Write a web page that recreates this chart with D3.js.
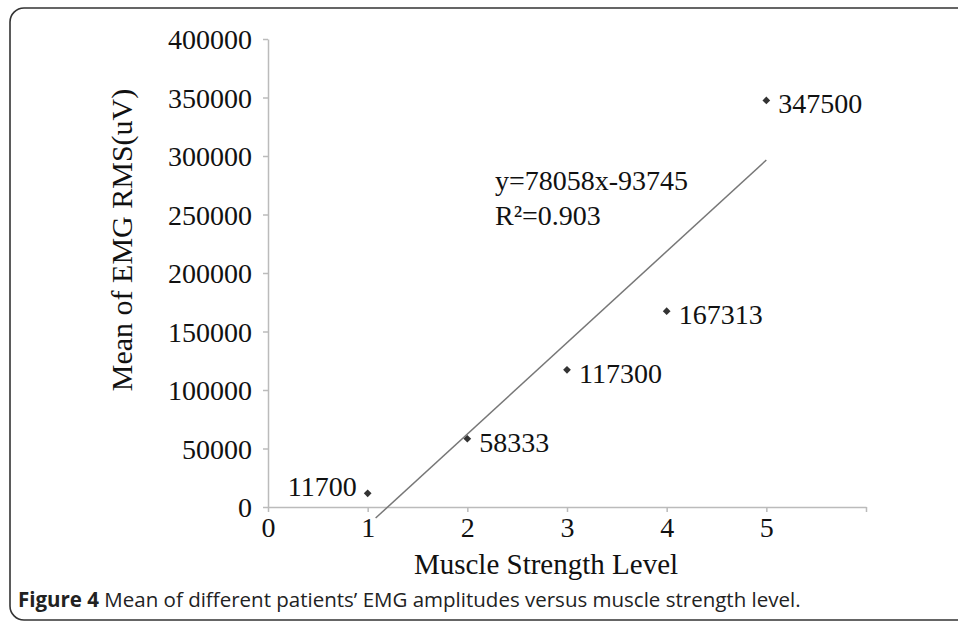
<!DOCTYPE html>
<html>
<head>
<meta charset="utf-8">
<script src="https://cdn.jsdelivr.net/npm/d3@7"></script>
<style>
  body { margin: 0; background: #fff; }
  svg { display: block; }
  .serif { font-family: "Liberation Serif", "Times New Roman", serif; fill: #111; }
</style>
</head>
<body>
<svg id="chart" width="958" height="625"></svg>
<script>
// strength level vs mean EMG RMS
const levels = [1, 2, 3, 4, 5];
const emgMeans = [11700, 58333, 117300, 167313, 347500];
const xTicks = [0, 1, 2, 3, 4, 5, 6];
const yTicks = [0, 50000, 100000, 150000, 200000, 250000, 300000, 350000, 400000];
// linear trend shown in the figure
const trendSlope = 78058;
const trendIntercept = -93745;
const trendRange = [1.08, 5];
const equationLines = ["y=78058x-93745", "R²=0.903"];

const svg = d3.select("#chart");

// rounded frame round the figure
svg.append("rect")
  .attr("x", 10).attr("y", 8)
  .attr("width", 980).attr("height", 612)
  .attr("rx", 14)
  .attr("fill", "none")
  .attr("stroke", "#333")
  .attr("stroke-width", 1.6);

const xScale = d3.scaleLinear().domain([0, 6]).range([268, 866]);
const yScale = d3.scaleLinear().domain([0, 400000]).range([507, 39]);

// y axis
const yAxis = svg.append("g")
  .attr("transform", "translate(" + xScale(0) + ",0)")
  .call(d3.axisLeft(yScale).tickValues(yTicks).tickSize(5).tickSizeOuter(0).tickPadding(11).tickFormat(d3.format("d")));

// x axis
const xAxis = svg.append("g")
  .attr("transform", "translate(0," + yScale(0) + ")")
  .call(d3.axisBottom(xScale).tickValues(xTicks).tickSize(5).tickSizeOuter(0)
    .tickFormat(d => (d === 6 ? "" : d)));

[xAxis, yAxis].forEach(function(ax) {
  ax.selectAll("path, line").attr("stroke", "#bbb").attr("stroke-width", 1.5);
  ax.selectAll("text")
    .attr("class", "serif")
    .style("font-size", "28px")
    .attr("fill", "#111");
});
xAxis.selectAll("text").attr("y", 8).attr("dy", "0.8em");
yAxis.selectAll("text").attr("dy", "0.34em");

// trend line
svg.append("line")
  .attr("x1", xScale(trendRange[0]))
  .attr("y1", yScale(trendSlope * trendRange[0] + trendIntercept))
  .attr("x2", xScale(trendRange[1]))
  .attr("y2", yScale(trendSlope * trendRange[1] + trendIntercept))
  .attr("stroke", "#777")
  .attr("stroke-width", 1.5);

// points (small diamonds)
const pts = levels.map((l, i) => ({ x: l, y: emgMeans[i] }));
svg.selectAll(".pt")
  .data(pts)
  .enter()
  .append("path")
  .attr("class", "pt")
  .attr("d", d3.symbol().type(d3.symbolSquare).size(30))
  .attr("transform", d => "translate(" + xScale(d.x) + "," + yScale(d.y) + ") rotate(45)")
  .attr("fill", "#333");

// value labels, the first one sits left of its point
svg.selectAll(".lbl")
  .data(pts)
  .enter()
  .append("text")
  .attr("class", "serif")
  .style("font-size", "28px")
  .attr("x", (d, i) => xScale(d.x) + (i === 0 ? -11 : 12))
  .attr("y", (d, i) => yScale(d.y) + (i === 0 ? 3 : 13))
  .attr("text-anchor", (d, i) => (i === 0 ? "end" : "start"))
  .text(d => d.y);

// regression equation
svg.append("text")
  .attr("class", "serif")
  .style("font-size", "28px")
  .selectAll("tspan")
  .data(equationLines)
  .enter()
  .append("tspan")
  .attr("x", 495)
  .attr("y", (d, i) => 190 + i * 35)
  .text(d => d);

// axis titles
svg.append("text")
  .attr("class", "serif")
  .style("font-size", "29px")
  .attr("text-anchor", "middle")
  .attr("x", 546).attr("y", 574)
  .text("Muscle Strength Level");

svg.append("text")
  .attr("class", "serif")
  .style("font-size", "30px")
  .attr("text-anchor", "middle")
  .attr("transform", "translate(132,240) rotate(-90)")
  .text("Mean of EMG RMS(uV)");

// caption
const cap = svg.append("text")
  .attr("x", 18).attr("y", 607)
  .style("font-family", "'Open Sans', 'Noto Sans', sans-serif")
  .style("font-size", "20.5px")
  .attr("fill", "#222");
cap.append("tspan").style("font-weight", "bold").text("Figure 4");
cap.append("tspan").text(" Mean of different patients’ EMG amplitudes versus muscle strength level.");
</script>
</body>
</html>
